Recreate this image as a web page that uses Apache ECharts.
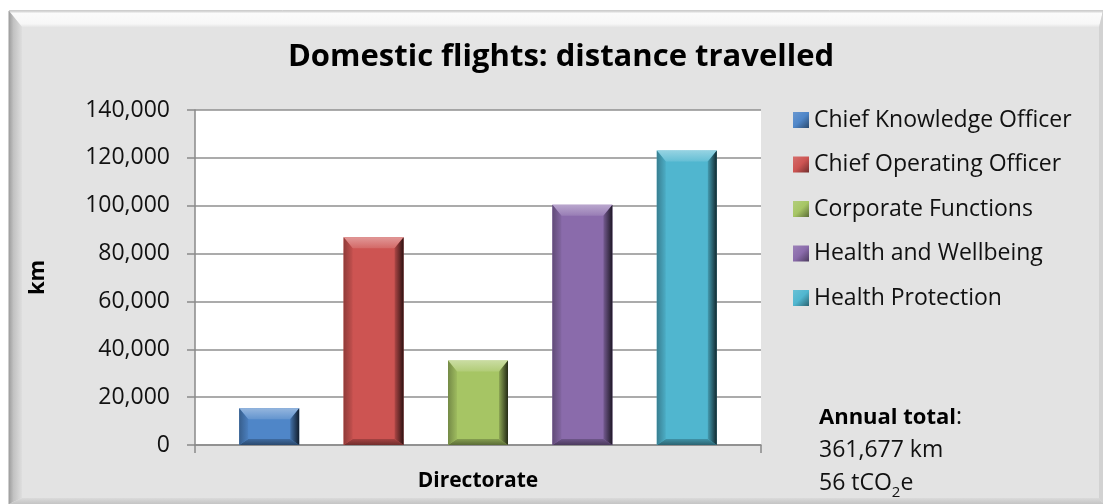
<!DOCTYPE html>
<html>
<head>
<meta charset="utf-8">
<script src="https://cdn.jsdelivr.net/npm/echarts@6/dist/echarts.min.js"></script>
<style>
  html, body { margin: 0; padding: 0; background: #ffffff; }
  #chart { width: 1103px; height: 504px; }
</style>
</head>
<body>
<div id="chart"></div>
<script>
// Distance travelled on domestic flights, by directorate (km)
const directorates = [
  'Chief Knowledge Officer',
  'Chief Operating Officer',
  'Corporate Functions',
  'Health and Wellbeing',
  'Health Protection'
];
const distanceKm = [15400, 86800, 35300, 100400, 123100];
const barColors = ['#4f86c8', '#cd5452', '#a6c564', '#8a6bab', '#50b6cf'];
const yTicks = { min: 0, max: 140000, interval: 20000 };
const titleText = 'Domestic flights: distance travelled';
const yAxisTitle = 'km';
const xAxisTitle = 'Directorate';
const totalLines = ['Annual total', '361,677 km', '56 tCO', '2', 'e'];

const FONT = '"Open Sans", "Noto Sans", sans-serif';

function shade(hex, f) {
  // f > 0 lightens towards white, f < 0 darkens towards black
  const n = parseInt(hex.slice(1), 16);
  let r = (n >> 16) & 255, g = (n >> 8) & 255, b = n & 255;
  const mix = (c) => f >= 0 ? Math.round(c + (255 - c) * f) : Math.round(c * (1 + f));
  r = mix(r); g = mix(g); b = mix(b);
  return 'rgb(' + r + ',' + g + ',' + b + ')';
}

function withCommas(v) {
  return String(v).replace(/\B(?=(\d{3})+(?!\d))/g, ',');
}

// Bevelled bar: body plus four edge facets, placed side by side in one category band
const BAR_FRAC = 60 / 566;
const STEP_FRAC = 104.4 / 566;
function bevelBar(params, api) {
  const idx = params.seriesIndex;
  const top = api.coord([api.value(0), api.value(1)]);
  const base = api.coord([api.value(0), 0]);
  const band = api.size([1, 0])[0];
  const w = band * BAR_FRAC;
  const cx = top[0] + (idx - (directorates.length - 1) / 2) * band * STEP_FRAC;
  const x0 = cx - w / 2, x1 = cx + w / 2;
  const y0 = top[1], y1 = base[1];
  const h = y1 - y0;
  const c = barColors[idx];
  const bt = Math.min(11, h / 2), bs = Math.min(9, w / 2), bb = Math.min(6, h / 3);
  const LG = echarts.graphic.LinearGradient;
  return {
    type: 'group',
    children: [
      { type: 'rect', shape: { x: x0, y: y0, width: w, height: h }, style: { fill: c } },
      { type: 'polygon', shape: { points: [[x0, y0], [x1, y0], [x1 - bs, y0 + bt], [x0 + bs, y0 + bt]] },
        style: { fill: new LG(0, 0, 0, 1, [{ offset: 0, color: shade(c, 0.4) }, { offset: 1, color: shade(c, 0.12) }]) } },
      { type: 'polygon', shape: { points: [[x0, y1], [x1, y1], [x1 - bs, y1 - bb], [x0 + bs, y1 - bb]] },
        style: { fill: new LG(0, 0, 0, 1, [{ offset: 0, color: shade(c, -0.2) }, { offset: 1, color: shade(c, -0.45) }]) } },
      { type: 'polygon', shape: { points: [[x0, y0], [x0 + bs, y0 + bt], [x0 + bs, y1 - bb], [x0, y1]] },
        style: { fill: new LG(0, 0, 1, 0, [{ offset: 0, color: shade(c, -0.3) }, { offset: 1, color: shade(c, -0.05) }]) } },
      { type: 'polygon', shape: { points: [[x1, y0], [x1, y1], [x1 - bs, y1 - bb], [x1 - bs, y0 + bt]] },
        style: { fill: new LG(0, 0, 1, 0, [{ offset: 0, color: shade(c, -0.15) }, { offset: 1, color: shade(c, -0.78) }]) } }
    ]
  };
}

const series = directorates.map((name, i) => ({
  name: name,
  type: 'custom',
  renderItem: bevelBar,
  itemStyle: { color: barColors[i] },
  encode: { x: 0, y: 1 },
  data: [[0, distanceKm[i]]],
  z: 3
}));

// Legend swatches shaded like the bars
const legendItems = directorates.map((name, i) => ({
  name: name,
  itemStyle: {
    color: new echarts.graphic.LinearGradient(0, 0, 1, 1, [
      { offset: 0, color: shade(barColors[i], 0.15) },
      { offset: 0.5, color: barColors[i] },
      { offset: 1, color: shade(barColors[i], -0.45) }
    ])
  }
}));

// Raised frame around the chart
const W = 1103, H = 504, L = 9, T = 11, BV = 13;
const frame = [
  { type: 'rect', z: -20, shape: { x: L, y: T, width: W - L, height: H - T }, style: { fill: '#e3e3e3', stroke: '#9c9c9c', lineWidth: 1 } },
  { type: 'polygon', z: -19, shape: { points: [[L, T], [W, T], [W - 4, T + 16], [L + BV, T + 16]] },
    style: { fill: new echarts.graphic.LinearGradient(0, 0, 0, 1, [{ offset: 0, color: '#cfcfcf' }, { offset: 0.15, color: '#fbfbfb' }, { offset: 0.8, color: '#f7f7f7' }, { offset: 1, color: '#e6e6e6' }]) } },
  { type: 'polygon', z: -19, shape: { points: [[L, T], [L + BV, T + 16], [L + BV, H - 6], [L, H]] },
    style: { fill: new echarts.graphic.LinearGradient(0, 0, 1, 0, [{ offset: 0, color: '#9e9e9e' }, { offset: 0.35, color: '#c2c2c2' }, { offset: 1, color: '#dedede' }]) } },
  { type: 'polygon', z: -19, shape: { points: [[L, H], [L + BV, H - 6], [W - 4, H - 6], [W, H]] },
    style: { fill: new echarts.graphic.LinearGradient(0, 0, 0, 1, [{ offset: 0, color: '#dadada' }, { offset: 1, color: '#c4c4c4' }]) } },
  { type: 'polygon', z: -19, shape: { points: [[W, T], [W, H], [W - 4, H - 6], [W - 4, T + 16]] },
    style: { fill: '#d2d2d2' } }
];

const chart = echarts.init(document.getElementById('chart'), null, { renderer: 'canvas' });
chart.setOption({
  animation: false,
  backgroundColor: '#ffffff',
  textStyle: { fontFamily: FONT },
  grid: { left: 195, right: 342, top: 110, bottom: 59, show: true, backgroundColor: '#ffffff', borderWidth: 0 },
  legend: {
    orient: 'vertical',
    left: 788,
    top: 103,
    icon: 'rect',
    itemWidth: 16,
    itemHeight: 16,
    itemGap: 20.5,
    data: legendItems,
    textStyle: { fontFamily: FONT, fontSize: 23, color: '#111', lineHeight: 24 }
  },
  xAxis: {
    type: 'category',
    data: [''],
    name: xAxisTitle,
    nameLocation: 'middle',
    nameGap: 26,
    nameTextStyle: { fontFamily: FONT, fontSize: 21, fontWeight: 'bold', color: '#000' },
    axisLine: { lineStyle: { color: '#8a8a8a', width: 1.5 } },
    axisTick: { show: true, length: 8, lineStyle: { color: '#8a8a8a', width: 1.5 } },
    axisLabel: { show: false }
  },
  yAxis: {
    type: 'value',
    min: yTicks.min,
    max: yTicks.max,
    interval: yTicks.interval,
    name: yAxisTitle,
    nameLocation: 'middle',
    nameRotate: 90,
    nameGap: 146,
    nameTextStyle: { fontFamily: FONT, fontSize: 22, fontWeight: 'bold', color: '#000' },
    axisLine: { show: true, lineStyle: { color: '#8a8a8a', width: 1.5 } },
    axisTick: { show: true, length: 8, lineStyle: { color: '#8a8a8a', width: 1.5 } },
    axisLabel: { margin: 25, fontFamily: FONT, fontSize: 23, color: '#111', formatter: withCommas },
    splitLine: { lineStyle: { color: '#8f8f8f', width: 1.5 } }
  },
  graphic: frame.concat([
    { type: 'text', z: 10, x: 561, y: 57,
      style: { text: titleText, fontFamily: FONT, fontSize: 31, fontWeight: 'bold', fill: '#000', textAlign: 'center', textVerticalAlign: 'middle' } },
    { type: 'text', z: 10, left: 819, top: 406,
      style: {
        text: '{b|' + totalLines[0] + '}{n|:}\n{n|' + totalLines[1] + '}\n{n|' + totalLines[2] + '}{s|' + totalLines[3] + '}{n|' + totalLines[4] + '}',
        fontFamily: FONT,
        fill: '#111',
        rich: {
          b: { fontFamily: FONT, fontSize: 22, fontWeight: 'bold', lineHeight: 33, fill: '#000', verticalAlign: 'middle' },
          n: { fontFamily: FONT, fontSize: 23, lineHeight: 33, fill: '#111', verticalAlign: 'middle' },
          s: { fontFamily: FONT, fontSize: 15, lineHeight: 14, fill: '#111', verticalAlign: 'bottom' }
        }
      } }
  ]),
  series: series
});
</script>
</body>
</html>
